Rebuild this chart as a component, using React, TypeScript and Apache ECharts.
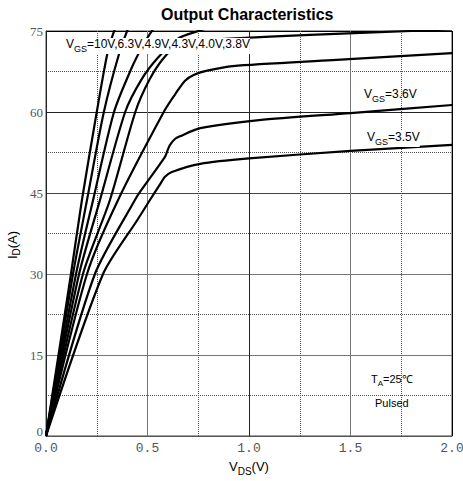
import React, { useEffect, useRef } from "react";
import * as echarts from "echarts";

const titleText = "Output Characteristics";
const xMin = 0;
const xMax = 2;
const xStep = 0.5;
const yMin = 0;
const yMax = 75;
const yStep = 15;

// [V_DS (V), I_D (A)]
const vgs10V = [[0, 0], [0.123, 30], [0.177, 43.7], [0.25, 60], [0.305, 71.3], [0.345, 76]];
const vgs63V = [[0, 0], [0.133, 30], [0.202, 43.7], [0.285, 60], [0.364, 71.3], [0.41, 76]];
const vgs49V = [[0, 0], [0.148, 30], [0.232, 43.7], [0.335, 60], [0.42, 68], [0.48, 72.5], [0.53, 75.5]];
const vgs43V = [[0, 0], [0.163, 30], [0.266, 43.7], [0.39, 60], [0.47, 66], [0.55, 70], [0.65, 73.6], [0.75, 75], [0.8, 75.6]];
const vgs40V = [[0, 0], [0.182, 30], [0.315, 43.7], [0.44, 60], [0.51, 66], [0.58, 70], [0.65, 72.3], [0.75, 73.2], [0.906, 73.6], [1.3, 74.3], [1.8, 75], [2.0, 75.3]];
const vgs38V = [[0, 0], [0.202, 30], [0.355, 43.7], [0.586, 60.4], [0.64, 63.5], [0.685, 65.8], [0.73, 66.9], [0.8, 67.7], [0.92, 68.5], [1.41, 69.6], [2.0, 70.9]];
const vgs36V = [[0, 0], [0.241, 30], [0.438, 43.7], [0.463, 45.2], [0.586, 51.7], [0.6, 53], [0.611, 53.9], [0.635, 55], [0.66, 55.5], [0.76, 57], [1.05, 58.5], [1.5, 59.8], [2.0, 61.3]];
const vgs35V = [[0, 0], [0.281, 30], [0.45, 40], [0.512, 43.7], [0.56, 46.5], [0.586, 48], [0.62, 48.9], [0.76, 50.4], [1.0, 51.4], [1.5, 52.8], [2.0, 53.9]];

const curveNames = ["10V", "6.3V", "4.9V", "4.3V", "4.0V", "3.8V", "3.6V", "3.5V"];
const curveData = [vgs10V, vgs63V, vgs49V, vgs43V, vgs40V, vgs38V, vgs36V, vgs35V];

const topLabel = "=10V,6.3V,4.9V,4.3V,4.0V,3.8V";
const label36 = "=3.6V";
const label35 = "=3.5V";
const tempLabel = "=25℃";
const pulsedLabel = "Pulsed";

const sans = "Liberation Sans";
const subRich = (size: number) => ({
  a: { fontSize: size, fontFamily: sans, color: "#000", lineHeight: size + 4, verticalAlign: "top" },
  b: { fontSize: size - 3, fontFamily: sans, color: "#000", lineHeight: size + 4, verticalAlign: "top", padding: [6, 0, 0, 0] },
});

export default function App() {
  const ref = useRef<HTMLDivElement>(null);
  useEffect(() => {
    if (!ref.current) return;
    const chart = echarts.init(ref.current, null, { renderer: "svg" });
    chart.setOption({
      animation: false,
      backgroundColor: "#fff",
      title: {
        text: titleText,
        left: 161,
        top: 6,
        padding: 0,
        textStyle: { fontSize: 16, fontWeight: "bold", fontFamily: sans, color: "#000" },
      },
      grid: {
        left: 46,
        right: 11,
        top: 31,
        bottom: 45,
        show: true,
        borderColor: "#444",
        borderWidth: 1,
        backgroundColor: "transparent",
        containLabel: false,
        outerBoundsMode: "none",
      },
      xAxis: {
        type: "value",
        min: xMin,
        max: xMax,
        interval: xStep,
        name: "{a|V}{b|DS}{a|(V)}",
        nameLocation: "middle",
        nameGap: 24,
        nameTextStyle: { rich: subRich(13) },
        axisLine: { show: true, lineStyle: { color: "#555", width: 1 } },
        axisTick: { show: false },
        axisLabel: {
          formatter: (v: number) => v.toFixed(1),
          fontFamily: "Liberation Mono",
          fontSize: 13,
          color: "#555",
          margin: 6,
        },
        splitLine: { show: true, lineStyle: { color: ["#000", "#777", "#222", "#777", "#000"], width: 1 } },
        minorTick: { show: false, splitNumber: 2 },
        minorSplitLine: { show: true, lineStyle: { color: "#555", type: "dotted", width: 1 } },
      },
      yAxis: {
        type: "value",
        min: yMin,
        max: yMax,
        interval: yStep,
        axisLine: { show: true, lineStyle: { color: "#222", width: 1 } },
        axisTick: { show: false },
        axisLabel: {
          formatter: (v: number) => (v === 0 ? "{z|0}" : String(v)),
          fontFamily: "Liberation Serif",
          fontSize: 13,
          color: "#555",
          margin: 3,
          rich: { z: { fontFamily: "Liberation Serif", fontSize: 13, color: "#555", padding: [0, 0, 9, 0] } },
        },
        splitLine: { show: true, lineStyle: { color: ["#000", "#777", "#777", "#444", "#222", "#000"], width: 1 } },
        minorTick: { show: false, splitNumber: 2 },
        minorSplitLine: { show: true, lineStyle: { color: "#555", type: "dotted", width: 1 } },
      },
      series: curveData.map((d, i) => ({
        name: curveNames[i],
        type: "line",
        data: d,
        showSymbol: false,
        smooth: 0.25,
        clip: true,
        lineStyle: { color: "#000", width: 2.2 },
        z: 3,
      })),
      graphic: [
        {
          type: "text",
          x: 14,
          y: 245,
          rotation: Math.PI / 2,
          z: 100,
          style: {
            text: "{a|I}{b|D}{a|(A)}",
            rich: subRich(13),
            align: "center",
            verticalAlign: "middle",
          },
        },
        {
          type: "text",
          x: 66,
          y: 38,
          z: 100,
          style: {
            text: "{a|V}{b|GS}{a|" + topLabel + "}",
            rich: subRich(12),
            backgroundColor: "#fff",
          },
        },
        {
          type: "text",
          x: 364,
          y: 88,
          z: 100,
          style: { text: "{a|V}{b|GS}{a|" + label36 + "}", rich: subRich(12) },
        },
        {
          type: "text",
          x: 367,
          y: 131,
          z: 100,
          style: {
            text: "{a|V}{b|GS}{a|" + label35 + "}",
            rich: subRich(12),
            backgroundColor: "#fff",
          },
        },
        {
          type: "text",
          x: 371,
          y: 373,
          z: 100,
          style: { text: "{a|T}{b|A}{a|" + tempLabel + "}", rich: subRich(11) },
        },
        {
          type: "text",
          x: 375,
          y: 403,
          z: 100,
          style: {
            text: pulsedLabel,
            fontSize: 11,
            fontFamily: sans,
            fill: "#000",
            verticalAlign: "middle",
          },
        },
      ],
    });
    return () => chart.dispose();
  }, []);
  return <div ref={ref} style={{ position: "fixed", left: 0, top: 0, width: 463, height: 481 }} />;
}
